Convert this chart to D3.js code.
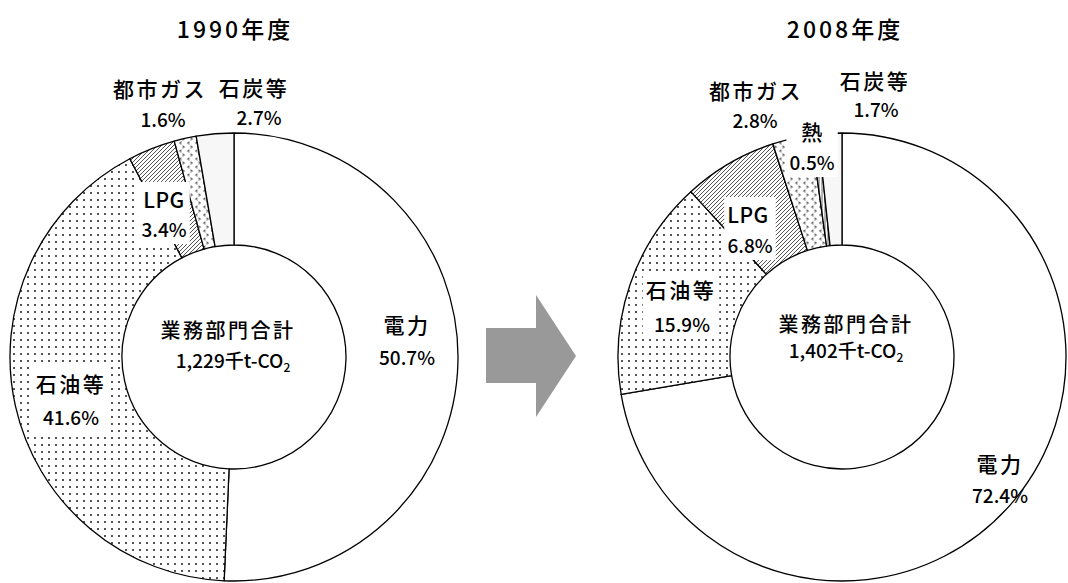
<!DOCTYPE html>
<html>
<head>
<meta charset="utf-8">
<script src="https://cdn.jsdelivr.net/npm/d3@7/dist/d3.min.js"></script>
<style>
  html, body { margin: 0; padding: 0; background: #fff; }
  svg { display: block; font-family: "Noto Sans CJK JP", "Noto Sans", sans-serif; }
</style>
</head>
<body>
<svg id="chart" width="1068" height="583"></svg>
<script>
// CO2 emissions of the commercial sector by energy source
const years = ["1990年度", "2008年度"];
const totals = ["1,229", "1,402"];
const totalUnit = "千t-CO";

const categories1990 = ["電力", "石油等", "LPG", "都市ガス", "石炭等"];
const values1990 = [50.7, 41.6, 3.4, 1.6, 2.7];

const categories2008 = ["電力", "石油等", "LPG", "都市ガス", "熱", "石炭等"];
const values2008 = [72.4, 15.9, 6.8, 2.8, 0.5, 1.7];

// ---- layout ----
const outerR = 224, innerR = 112;
const centers = [{ x: 234, y: 357 }, { x: 842, y: 357 }];

// label anchor points per chart: [x1, y1, x2, y2, boxed]
const labelPos = [
  {
    "電力":   [407, 333, 407, 365, false],
    "石油等": [71, 392, 71, 425, true],
    "LPG":    [164, 208, 164, 237, true],
    "都市ガス": [160, 97, 163, 127, false],
    "石炭等": [254, 96, 259, 125, false]
  },
  {
    "電力":   [1000, 472, 1000, 503, false],
    "石油等": [681, 298, 682, 332, true],
    "LPG":    [748, 223, 750, 253, true],
    "都市ガス": [756, 99, 755, 128, false],
    "熱":     [813, 140, 812, 170, true],
    "石炭等": [875, 89, 876, 117, false]
  }
];
const titlePos = [[235, 38], [845, 38]];
const centerText = [[228, 338, 233, 368], [846, 332, 846, 358]];

const svg = d3.select("#chart");
const defs = svg.append("defs");

// fill patterns
const pDots = defs.append("pattern").attr("id", "p-dots")
  .attr("patternUnits", "userSpaceOnUse").attr("width", 7).attr("height", 7);
pDots.append("rect").attr("width", 7).attr("height", 7).attr("fill", "#fff");
pDots.append("rect").attr("x", 3).attr("y", 3).attr("width", 2).attr("height", 2).attr("fill", "#555");

const pHatch = defs.append("pattern").attr("id", "p-hatch")
  .attr("patternUnits", "userSpaceOnUse").attr("width", 4).attr("height", 4);
pHatch.append("rect").attr("width", 4).attr("height", 4).attr("fill", "#fff");
pHatch.append("path").attr("d", "M-1,1 L1,-1 M0,4 L4,0 M3,5 L5,3")
  .attr("stroke", "#555").attr("stroke-width", 1);

const pChev = defs.append("pattern").attr("id", "p-chev")
  .attr("patternUnits", "userSpaceOnUse").attr("width", 8).attr("height", 8);
pChev.append("rect").attr("width", 8).attr("height", 8).attr("fill", "#fff");
pChev.append("path").attr("d", "M3.5,0.8 L1.8,2 L3.5,3.2 M4.5,4.8 L6.2,6 L4.5,7.2")
  .attr("stroke", "#666").attr("stroke-width", 1.1).attr("fill", "none");

const pVert = defs.append("pattern").attr("id", "p-vert")
  .attr("patternUnits", "userSpaceOnUse").attr("width", 3).attr("height", 3);
pVert.append("rect").attr("width", 3).attr("height", 3).attr("fill", "#fff");
pVert.append("path").attr("d", "M1,0 L1,3").attr("stroke", "#444").attr("stroke-width", 0.8);

const fillOf = {
  "電力": "#ffffff",
  "石油等": "url(#p-dots)",
  "LPG": "url(#p-hatch)",
  "都市ガス": "url(#p-chev)",
  "熱": "url(#p-vert)",
  "石炭等": "#f7f7f7"
};

const pie = d3.pie().sort(null).value(d => d.value).startAngle(0).endAngle(2 * Math.PI);
const arc = d3.arc().innerRadius(innerR).outerRadius(outerR);

const datasets = [
  categories1990.map((c, i) => ({ name: c, value: values1990[i] })),
  categories2008.map((c, i) => ({ name: c, value: values2008[i] }))
];

datasets.forEach((data, k) => {
  const c = centers[k];
  const g = svg.append("g").attr("transform", `translate(${c.x},${c.y})`);
  g.selectAll("path.slice")
    .data(pie(data))
    .join("path")
    .attr("class", "slice")
    .attr("d", arc)
    .attr("fill", d => fillOf[d.data.name])
    .attr("stroke", "#000")
    .attr("stroke-width", 1.3)
    .attr("stroke-linejoin", "round");

  // year title
  svg.append("text")
    .attr("x", titlePos[k][0]).attr("y", titlePos[k][1])
    .attr("text-anchor", "middle")
    .attr("font-size", 23).attr("letter-spacing", 3)
    .attr("font-weight", 500)
    .attr("fill", "#000")
    .text(years[k]);

  // slice labels
  const lg = svg.append("g");
  data.forEach(d => {
    const p = labelPos[k][d.name];
    const grp = lg.append("g");
    const t1 = grp.append("text")
      .attr("x", p[0]).attr("y", p[1])
      .attr("text-anchor", "middle")
      .attr("font-size", 21)
      .attr("font-weight", 500)
      .attr("letter-spacing", d.name === "LPG" ? 0.5 : 2.5)
      .attr("fill", "#000")
      .text(d.name);
    const t2 = grp.append("text")
      .attr("x", p[2]).attr("y", p[3])
      .attr("text-anchor", "middle")
      .attr("font-size", 19)
      .attr("font-weight", 500)
      .attr("fill", "#000")
      .text(d3.format(".1f")(d.value) + "%");
    if (p[4]) {
      const b1 = t1.node().getBBox(), b2 = t2.node().getBBox();
      const x0 = Math.min(b1.x, b2.x) - 3, x1 = Math.max(b1.x + b1.width, b2.x + b2.width) + 3;
      const y0 = b1.y - 2, y1 = b2.y + b2.height + 2;
      grp.insert("rect", "text")
        .attr("x", x0).attr("y", y0)
        .attr("width", x1 - x0).attr("height", y1 - y0)
        .attr("fill", "#fff");
    }
  });

  // total in the hole
  const ct = centerText[k];
  svg.append("text")
    .attr("x", ct[0]).attr("y", ct[1])
    .attr("text-anchor", "middle")
    .attr("font-size", 20).attr("letter-spacing", 2.5)
    .attr("font-weight", 500)
    .attr("fill", "#000")
    .text("業務部門合計");
  const tot = svg.append("text")
    .attr("x", ct[2]).attr("y", ct[3])
    .attr("text-anchor", "middle")
    .attr("font-size", 19)
    .attr("font-weight", 500)
    .attr("fill", "#000");
  tot.append("tspan").text(totals[k] + totalUnit);
  tot.append("tspan").attr("font-size", 12).attr("dy", 4).text("2");
});

// arrow between the two years
const arrowPts = [[486, 328], [536, 328], [536, 295], [576, 356], [536, 417], [536, 383], [486, 383]];
svg.append("path")
  .attr("d", d3.line()(arrowPts) + "Z")
  .attr("fill", "#999");
</script>
</body>
</html>
